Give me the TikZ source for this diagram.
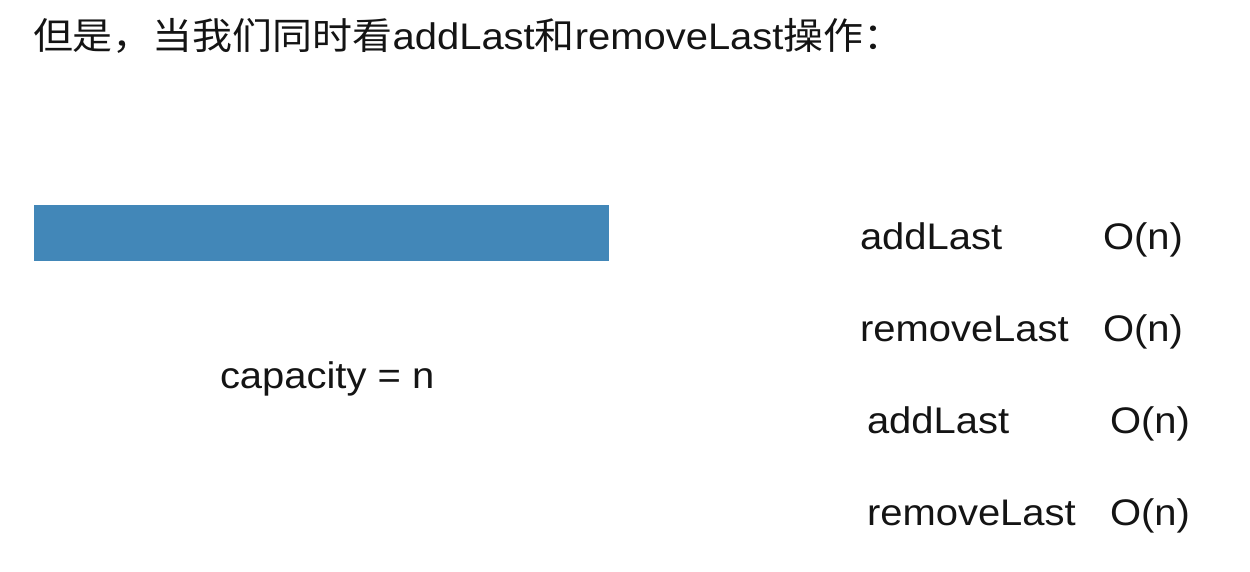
\documentclass[tikz,border=0pt]{standalone}
\usepackage{fontspec}
\setmainfont[FakeStretch=1.08]{Liberation Sans}
\newfontfamily\cjk[FakeStretch=1.08]{Noto Sans CJK SC}
\definecolor{barblue}{RGB}{66,135,184}
\definecolor{txt}{RGB}{20,20,20}
\begin{document}
\begin{tikzpicture}[x=1pt,y=-1pt,
  lbl/.style={anchor=base west,inner sep=0pt,outer sep=0pt,text=txt,font=\fontsize{37}{40}\selectfont}]
\useasboundingbox (0,0) rectangle (1250,572);
\node[lbl] (title) at (33,50) {{\cjk 但是，当我们同时看}addLast{\cjk 和}removeLast{\cjk 操作：}};
\path[fill=barblue] (34,205) rectangle (609,261);
\node[lbl] (cap) at (220,388) {capacity = n};
\node[lbl] (a1) at (860,250) {addLast};
\node[lbl] (o1) at (1103,250) {O(n)};
\node[lbl] (r1) at (860,341) {removeLast};
\node[lbl] (o2) at (1103,341) {O(n)};
\node[lbl] (a2) at (867,433) {addLast};
\node[lbl] (o3) at (1110,433) {O(n)};
\node[lbl] (r2) at (867,525) {removeLast};
\node[lbl] (o4) at (1110,525) {O(n)};
\end{tikzpicture}
\end{document}
